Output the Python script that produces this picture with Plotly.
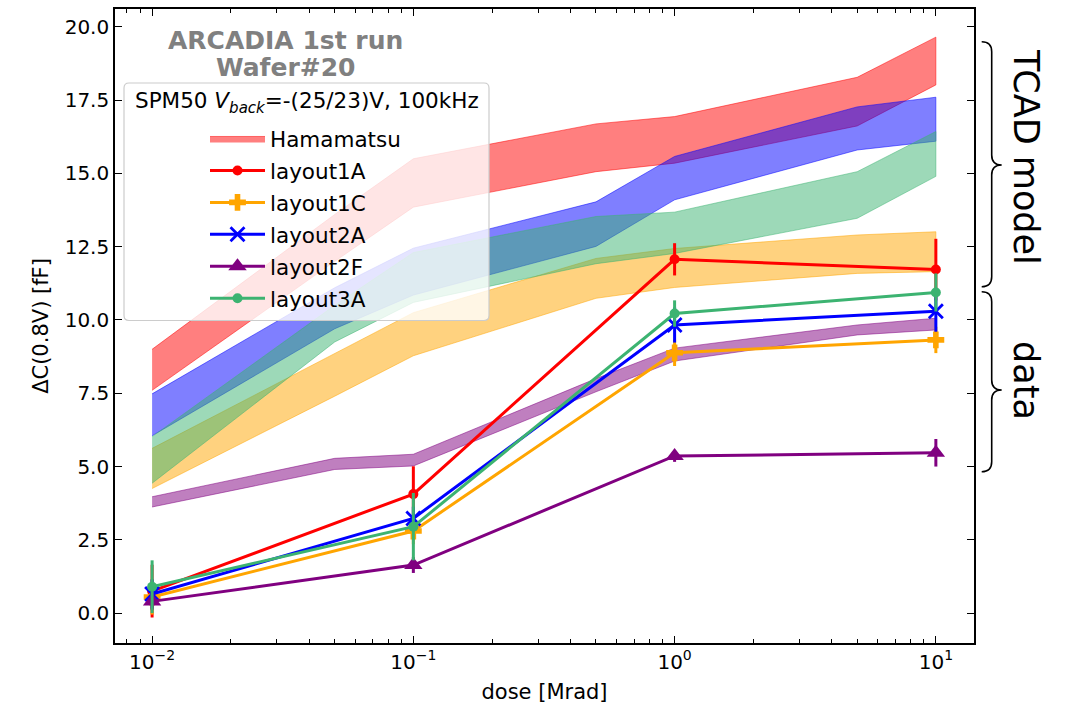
import plotly.graph_objects as go

# ---------------- data ----------------
band_dose = [0.01, 0.05, 0.1, 0.5, 1, 5, 10]

band_1A_low = [7.6, 12.0, 13.85, 15.06, 15.35, 16.62, 18.02]
band_1A_high = [9.0, 13.6, 15.5, 16.69, 16.94, 18.28, 19.65]
band_1C_low = [4.25, 7.4, 8.78, 10.74, 11.11, 11.59, 11.65]
band_1C_high = [5.62, 8.86, 10.25, 12.1, 12.44, 12.9, 13.01]
band_2A_low = [6.05, 9.7, 10.85, 12.51, 14.1, 15.8, 16.1]
band_2A_high = [7.48, 11.1, 12.45, 14.03, 15.58, 17.27, 17.6]
band_2F_low = [3.62, 4.9, 5.02, 7.55, 8.6, 9.49, 9.66]
band_2F_high = [3.97, 5.28, 5.42, 8.0, 9.04, 9.83, 10.06]
band_3A_low = [4.43, 9.25, 10.6, 11.92, 12.27, 13.47, 14.9]
band_3A_high = [6.02, 10.5, 12.3, 13.53, 13.68, 15.06, 16.43]

dose = [0.01, 0.1, 1, 10]
y_1A = [0.75, 4.06, 12.07, 11.72]
e_1A = [0.9, 0.95, 0.55, 1.05]
y_1C = [0.55, 2.8, 8.88, 9.32]
e_1C = [0.6, 0.45, 0.45, 0.45]
y_2A = [0.65, 3.23, 9.83, 10.3]
e_2A = [0.5, 0.4, 0.6, 0.7]
y_2F = [0.4, 1.64, 5.36, 5.47]
e_2F = [0.3, 0.27, 0.2, 0.47]
y_3A = [0.9, 2.95, 10.22, 10.94]
e_3A = [0.9, 1.15, 0.45, 0.65]

labels = ["layout1A", "layout1C", "layout2A", "layout2F", "layout3A"]
x_tick_vals = [0.01, 0.1, 1, 10]
x_tick_text = ["10<sup>−2</sup>", "10<sup>−1</sup>", "10<sup>0</sup>", "10<sup>1</sup>"]
y_tick_vals = [0.0, 2.5, 5.0, 7.5, 10.0, 12.5, 15.0, 17.5, 20.0]

# ---------------- style ----------------
W, H = 1069, 705
L, R, T, B = 115, 95, 9, 62
PW, PH = W - L - R, H - T - B
FONT = "DejaVu Sans"

colors = {"layout1A": (255, 0, 0), "layout1C": (255, 165, 0), "layout2A": (0, 0, 255),
          "layout2F": (128, 0, 128), "layout3A": (60, 179, 113)}


def rgba(c, a):
    return f"rgba({c[0]},{c[1]},{c[2]},{a})"


def P(px, py):
    return f"{(px - L) / PW:.5f},{(H - B - py) / PH:.5f}"


fig = go.Figure()

bands = [("layout1A", band_1A_low, band_1A_high), ("layout1C", band_1C_low, band_1C_high),
         ("layout2A", band_2A_low, band_2A_high), ("layout2F", band_2F_low, band_2F_high),
         ("layout3A", band_3A_low, band_3A_high)]
for i, (name, lo, hi) in enumerate(bands):
    c = colors[name]
    fig.add_trace(go.Scatter(
        x=band_dose + band_dose[::-1], y=hi + lo[::-1], mode="lines", fill="toself",
        fillcolor=rgba(c, 0.5), line=dict(color=rgba(c, 0.5), width=1),
        name="Hamamatsu", showlegend=(i == 0), legendgroup="band" if i == 0 else "band" + name,
        hoverinfo="skip"))

series = [("layout1A", y_1A, e_1A, dict(symbol="circle", size=10)),
          ("layout1C", y_1C, e_1C, dict(symbol="cross", size=14)),
          ("layout2A", y_2A, e_2A, dict(symbol="x-thin", size=14, line=dict(width=2.8, color="blue"))),
          ("layout2F", y_2F, e_2F, dict(symbol="triangle-up", size=16)),
          ("layout3A", y_3A, e_3A, dict(symbol="circle", size=10))]
for name, ys, es, mk in series:
    c = colors[name]
    mk = dict(mk)
    mk["color"] = rgba(c, 1)
    fig.add_trace(go.Scatter(
        x=dose, y=ys, mode="lines+markers", name=name, legendgroup=name,
        line=dict(color=rgba(c, 1), width=3), marker=mk,
        error_y=dict(type="data", array=es, visible=True, color=rgba(c, 1), thickness=3, width=0)))

axis_common = dict(showline=True, linewidth=1.6, linecolor="black", mirror="ticks",
                   ticks="inside", ticklen=7, tickwidth=1.3, tickcolor="black",
                   showgrid=False, zeroline=False,
                   tickfont=dict(family=FONT, size=20, color="black"))

fig.update_xaxes(type="log", range=[-2.142, 1.146], tickvals=x_tick_vals, ticktext=x_tick_text,
                 minor=dict(ticks="inside", ticklen=4, tickwidth=1, tickcolor="black",
                            tickvals=[m * 10 ** k for k in (-3, -2, -1, 0, 1) for m in range(2, 10)]),
                 title=dict(text="dose [Mrad]", font=dict(family=FONT, size=21, color="black"), standoff=12),
                 **axis_common)
fig.update_yaxes(range=[-1.02, 20.61], tickvals=y_tick_vals, tickformat=".1f",
                 title=dict(text="ΔC(0.8V) [fF]", font=dict(family=FONT, size=21, color="black"), standoff=10),
                 **axis_common)

# legend box (drawn behind the legend entries)
bx0, bx1, by0, by1, r = 124, 489, 83, 320.5, 5
box = (f"M{P(bx0 + r, by0)} L{P(bx1 - r, by0)} Q{P(bx1, by0)} {P(bx1, by0 + r)} "
       f"L{P(bx1, by1 - r)} Q{P(bx1, by1)} {P(bx1 - r, by1)} L{P(bx0 + r, by1)} "
       f"Q{P(bx0, by1)} {P(bx0, by1 - r)} L{P(bx0, by0 + r)} Q{P(bx0, by0)} {P(bx0 + r, by0)} Z")
shapes = [dict(type="path", path=box, xref="paper", yref="paper", layer="above",
               fillcolor="rgba(255,255,255,0.8)", line=dict(color="rgb(204,204,204)", width=1.2))]


def brace(xe, xv, xt, yt, ym, yb, rr=10):
    return (f"M{P(xe, yt)} Q{P(xv, yt)} {P(xv, yt + rr)} L{P(xv, ym - rr)} "
            f"Q{P(xv, ym)} {P(xt, ym)} Q{P(xv, ym)} {P(xv, ym + rr)} "
            f"L{P(xv, yb - rr)} Q{P(xv, yb)} {P(xe, yb)}")


for yt, ym, yb in [(41.7, 165, 286.7), (291.7, 390, 471.7)]:
    shapes.append(dict(type="path", path=brace(981.7, 991.7, 1001.7, yt, ym, yb),
                       xref="paper", yref="paper", line=dict(color="black", width=1.6)))

annotations = [
    dict(text="<b>ARCADIA 1st run</b>", x=(285 - L) / PW, y=(H - B - 40) / PH, xref="paper", yref="paper",
         showarrow=False, font=dict(family=FONT, size=25, color="rgb(128,128,128)"), xanchor="center", yanchor="middle"),
    dict(text="<b>Wafer#20</b>", x=(285 - L) / PW, y=(H - B - 67) / PH, xref="paper", yref="paper",
         showarrow=False, font=dict(family=FONT, size=25, color="rgb(128,128,128)"), xanchor="center", yanchor="middle"),
    dict(text="SPM50 <i>V</i><sub><i>back</i></sub>=-(25/23)V, 100kHz", x=(307 - L) / PW, y=(H - B - 103) / PH,
         xref="paper", yref="paper", showarrow=False, font=dict(family=FONT, size=21.5, color="black"),
         xanchor="center", yanchor="middle"),
    dict(text="TCAD model", x=(1026 - L) / PW, y=(H - B - 157) / PH, xref="paper", yref="paper",
         showarrow=False, textangle=90, font=dict(family=FONT, size=35, color="black"),
         xanchor="center", yanchor="middle"),
    dict(text="data", x=(1026 - L) / PW, y=(H - B - 380) / PH, xref="paper", yref="paper",
         showarrow=False, textangle=90, font=dict(family=FONT, size=35, color="black"),
         xanchor="center", yanchor="middle"),
]

fig.update_layout(
    width=W, height=H, margin=dict(l=L, r=R, t=T, b=B, autoexpand=False),
    paper_bgcolor="white", plot_bgcolor="white",
    font=dict(family=FONT, color="black"),
    showlegend=True,
    legend=dict(x=(205 - L) / PW, y=(H - B - 118) / PH, xanchor="left", yanchor="top",
                bgcolor="rgba(0,0,0,0)", borderwidth=0, itemwidth=55, tracegroupgap=1,
                font=dict(family=FONT, size=21.5, color="black"), traceorder="grouped"),
    shapes=shapes, annotations=annotations,
)

fig.write_html("out.html")
